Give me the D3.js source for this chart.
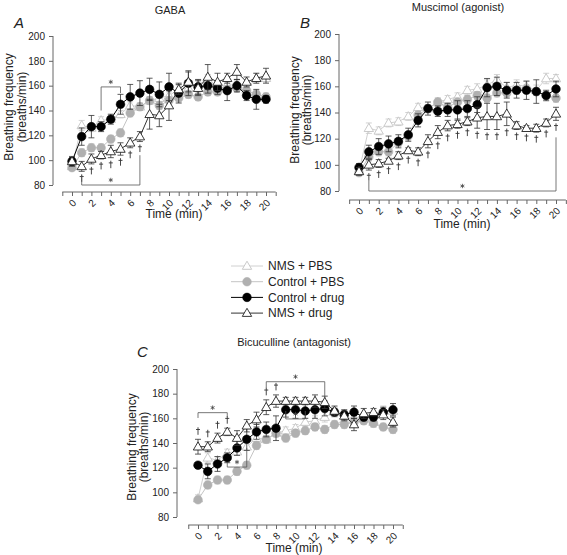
<!DOCTYPE html>
<html><head><meta charset="utf-8">
<script src="https://cdn.jsdelivr.net/npm/d3@7"></script>
<style>body{margin:0;background:#fff} svg{display:block} text{font-family:Arial,"Liberation Sans",sans-serif}</style>
</head><body>
<svg id="chart" width="567" height="555"></svg>
<script>
// ---------------- data ----------------
const times = d3.range(0, 21);
const xTickValues = d3.range(-1, 22);
const xTickLabels = [0, 2, 4, 6, 8, 10, 12, 14, 16, 18, 20];
const yTickValues = [80, 100, 120, 140, 160, 180, 200];
const seriesNames = ["NMS + PBS", "Control + PBS", "Control + drug", "NMS + drug"];
const panelTitles = ["GABA", "Muscimol (agonist)", "Bicuculline (antagonist)"];
const panelLetters = ["A", "B", "C"];

// shared vehicle (PBS) groups
const nmsPbs     = [95,128,126,132,133,137,144,143,148,150,152,157,158,161,165,159,161,160,157,166,166];
const nmsPbsErr  = [3,4,3,3,3,3,3,3,3,3,3,3,4,4,4,4,4,4,4,4,3];
const ctrlPbs    = [94,106,110,110,117,122,138,143,148,144,148,150,153,151,155,155,157,158,156,153,151];
const ctrlPbsErr = [2,3,3,3,3,3,3,3,3,3,3,3,3,3,3,3,3,3,3,3,3];

// GABA
const gabaCtrlDrug    = [99,119,127,127,133,145,151,154,157,153,159,154,162,159,160,158,156,160,152,149,149];
const gabaCtrlDrugErr = [3,7,9,4,4,8,10,10,9,10,11,8,10,6,6,5,8,5,4,8,3];
const gabaNmsDrug     = [99,95,101,104,107,109,114,119,137,136,144,157,163,158,167,163,166,171,163,166,168];
const gabaNmsDrugErr  = [4,4,4,3,5,5,4,4,12,9,12,4,8,6,10,7,4,6,4,4,6];
const gabaDaggers     = [1,2,3,4,5,6,7];

// Muscimol
const muscCtrlDrug    = [98,110,114,116,118,123,134,143,141,142,142,143,146,159,160,157,157,157,156,153,158];
const muscCtrlDrugErr = [3,5,6,6,5,5,5,5,4,5,7,6,6,7,7,6,6,7,9,4,6];
const muscNmsDrug     = [95,100,101,103,107,111,110,118,125,130,131,133,136,137,137,139,130,128,128,132,139];
const muscNmsDrugErr  = [3,4,3,2,3,2,3,5,5,4,3,3,8,10,10,9,3,2,3,3,5];
const muscDaggers     = [1,2,3,4,5,6,7,8,9,10,11,12,13,14,15,16,17,18,19,20];

// Bicuculline
const bicuCtrlDrug    = [122,117,123,128,136,143,149,151,152,167,167,166,167,168,165,163,165,161,161,165,167];
const bicuCtrlDrugErr = [2,6,6,4,6,9,6,6,10,6,7,6,7,6,3,4,5,3,3,4,5];
const bicuNmsDrug     = [137,137,144,149,144,154,159,169,174,174,174,174,174,173,166,162,155,164,165,163,157];
const bicuNmsDrugErr  = [6,4,4,3,6,5,6,6,5,3,3,3,5,5,4,4,5,4,3,4,4];
const bicuDaggers     = [0,1,2,3,7,8];

// significance brackets: [fromTime, toTime, lineValue, leftEndValue, rightEndValue]
const gabaBrackets = [[3,5,159,140,154],[1,7,80,88,104]];
const muscBrackets = [[1,20,80,88,121]];
const bicuBrackets = [[0,3,164.6,160.3,161],[3,5,120.5,124.8,136],[7,13,189.7,184.6,176.5],[9,11,159.5,166,166]];

// ---------------- layout ----------------
const panels = [
  {drug: gabaCtrlDrug, drugErr: gabaCtrlDrugErr, nms: gabaNmsDrug, nmsErr: gabaNmsDrugErr, daggers: gabaDaggers, daggerPos: "below", brackets: gabaBrackets,
   xr: [62.3, 275.7], yr: [185, 36], yAxisX: 53, xAxisY: 192, title: [170, 14], letter: [14, 28], ylab: [9, 22, 107], xlab: [174, 218]},
  {drug: muscCtrlDrug, drugErr: muscCtrlDrugErr, nms: muscNmsDrug, nmsErr: muscNmsDrugErr, daggers: muscDaggers, daggerPos: "below", brackets: muscBrackets,
   xr: [349.15, 565.85], yr: [191, 34], yAxisX: 339, xAxisY: 200, title: [458, 11], letter: [300, 28], ylab: [295, 307, 110], xlab: [462, 228]},
  {drug: bicuCtrlDrug, drugErr: bicuCtrlDrugErr, nms: bicuNmsDrug, nmsErr: bicuNmsDrugErr, daggers: bicuDaggers, daggerPos: "above", brackets: bicuBrackets,
   xr: [188.25, 402.75], yr: [517, 369], yAxisX: 177, xAxisY: 525, title: [294, 346], letter: [137, 357], ylab: [132, 144, 447], xlab: [294, 552]}
];

const styles = [
  {line: "#d0d0d0", err: "#c8c8c8", shape: "tri", fill: "#fff", stroke: "#c4c4c4"},
  {line: "#c4c4c4", err: "#b0b0b0", shape: "circ", fill: "#b0b0b0", stroke: "#b0b0b0"},
  {line: "#000", err: "#333", shape: "circ", fill: "#000", stroke: "#000"},
  {line: "#333", err: "#333", shape: "tri", fill: "#fff", stroke: "#222"}
];

const svg = d3.select("#chart");
const axisColor = "#666", textColor = "#222";
const triPath = d3.symbol(d3.symbolTriangle, 38)();

function drawMarker(g, st, x, y) {
  if (st.shape === "circ") {
    g.append("circle").attr("cx", x).attr("cy", y).attr("r", 4.3).attr("fill", st.fill).attr("stroke", st.stroke).attr("stroke-width", 0.6);
  } else {
    g.append("path").attr("d", triPath).attr("transform", `translate(${x},${y + 0.6})`).attr("fill", st.fill).attr("stroke", st.stroke).attr("stroke-width", 0.9);
  }
}
function drawDagger(g, x, y) {
  g.append("path").attr("d", `M${x},${y - 4}V${y + 3.5}M${x - 2},${y - 1.8}H${x + 2}`)
    .attr("stroke", "#333").attr("stroke-width", 0.9).attr("fill", "none");
}
function drawStar(g, x, y) {
  const r = 2.2;
  g.append("path").attr("d", `M${x},${y - r}V${y + r}M${x - r * 0.9},${y - r * 0.5}L${x + r * 0.9},${y + r * 0.5}M${x - r * 0.9},${y + r * 0.5}L${x + r * 0.9},${y - r * 0.5}`)
    .attr("stroke", "#444").attr("stroke-width", 0.8).attr("fill", "none");
}

panels.forEach((p, pi) => {
  const x = d3.scaleLinear().domain([-1, 21]).range(p.xr);
  const y = d3.scaleLinear().domain([80, 200]).range(p.yr);
  const g = svg.append("g");

  // y axis
  const ya = g.append("g").attr("transform", `translate(${p.yAxisX},0)`)
    .call(d3.axisLeft(y).tickValues(yTickValues).tickSize(4).tickPadding(4));
  ya.select(".domain").attr("stroke", axisColor).attr("d", `M-0,${y(200)}V${y(80)}`);
  ya.selectAll(".tick line").attr("stroke", axisColor);
  ya.selectAll(".tick text").attr("font-size", 10).attr("fill", textColor).attr("font-family", "Arial, 'Liberation Sans', sans-serif");

  // x axis
  const xa = g.append("g").attr("transform", `translate(0,${p.xAxisY})`)
    .call(d3.axisBottom(x).tickValues(xTickValues).tickSize(4).tickFormat(d => xTickLabels.includes(d) ? d : ""));
  xa.select(".domain").attr("stroke", axisColor).attr("d", `M${x(-1)},0H${x(21)}`);
  xa.selectAll(".tick line").attr("stroke", axisColor);
  xa.selectAll(".tick text").attr("font-size", 10).attr("fill", textColor).attr("font-family", "Arial, 'Liberation Sans', sans-serif")
    .attr("y", 0).attr("dy", "0.35em").attr("text-anchor", "end")
    .attr("transform", "translate(2,9) rotate(-45)");

  // labels
  g.append("text").attr("x", p.title[0]).attr("y", p.title[1]).attr("text-anchor", "middle").attr("font-size", 11).attr("fill", textColor).text(panelTitles[pi]);
  g.append("text").attr("x", p.letter[0]).attr("y", p.letter[1]).attr("font-size", 15).attr("font-style", "italic").attr("fill", textColor).text(panelLetters[pi]);
  const yl = g.append("text").attr("transform", `translate(${p.ylab[0]},${p.ylab[2]}) rotate(-90)`).attr("text-anchor", "middle").attr("font-size", 12).attr("fill", textColor);
  yl.append("tspan").attr("x", 0).attr("dy", "0.35em").text("Breathing frequency");
  yl.append("tspan").attr("x", 0).attr("dy", (p.ylab[1] - p.ylab[0]) + "px").text("(breaths/min)");
  g.append("text").attr("x", p.xlab[0]).attr("y", p.xlab[1]).attr("text-anchor", "middle").attr("font-size", 12).attr("fill", textColor).text("Time (min)");

  const seriesVals = [[nmsPbs, nmsPbsErr], [ctrlPbs, ctrlPbsErr], [p.drug, p.drugErr], [p.nms, p.nmsErr]];
  seriesVals.forEach(([vals, errs], si) => {
    const st = styles[si];
    const sg = g.append("g");
    sg.append("path").datum(times).attr("fill", "none").attr("stroke", st.line).attr("stroke-width", 1)
      .attr("d", d3.line().x(t => x(t)).y(t => y(vals[t])));
    times.forEach(t => {
      const cx = x(t), top = y(vals[t] + errs[t]), bot = y(vals[t] - errs[t]);
      sg.append("path").attr("d", `M${cx},${top}V${bot}M${cx - 3},${top}H${cx + 3}M${cx - 3},${bot}H${cx + 3}`)
        .attr("stroke", st.err).attr("stroke-width", 0.8).attr("fill", "none");
    });
    times.forEach(t => drawMarker(sg, st, x(t), y(vals[t])));
  });

  // daggers
  p.daggers.forEach(t => {
    const v = p.nms[t], e = p.nmsErr[t];
    const yy = p.daggerPos === "below" ? y(v - e) + 7 : y(v + e) - 8;
    drawDagger(g, x(t), yy);
  });

  // brackets
  p.brackets.forEach(([t0, t1, lv, l0, l1]) => {
    g.append("path").attr("d", `M${x(t0)},${y(l0)}V${y(lv)}H${x(t1)}V${y(l1)}`)
      .attr("fill", "none").attr("stroke", "#555").attr("stroke-width", 0.8);
    drawStar(g, (x(t0) + x(t1)) / 2, y(lv) - 5);
  });
});

// legend
const leg = svg.append("g");
seriesNames.forEach((name, i) => {
  const st = styles[i];
  const yy = 266 + i * 15.7;
  leg.append("line").attr("x1", 231).attr("x2", 263).attr("y1", yy).attr("y2", yy).attr("stroke", st.line).attr("stroke-width", 1);
  drawMarker(leg, st, 247, yy);
  leg.append("text").attr("x", 268).attr("y", yy).attr("dy", "0.35em").attr("font-size", 12).attr("fill", textColor).text(name);
});
</script>
</body></html>
